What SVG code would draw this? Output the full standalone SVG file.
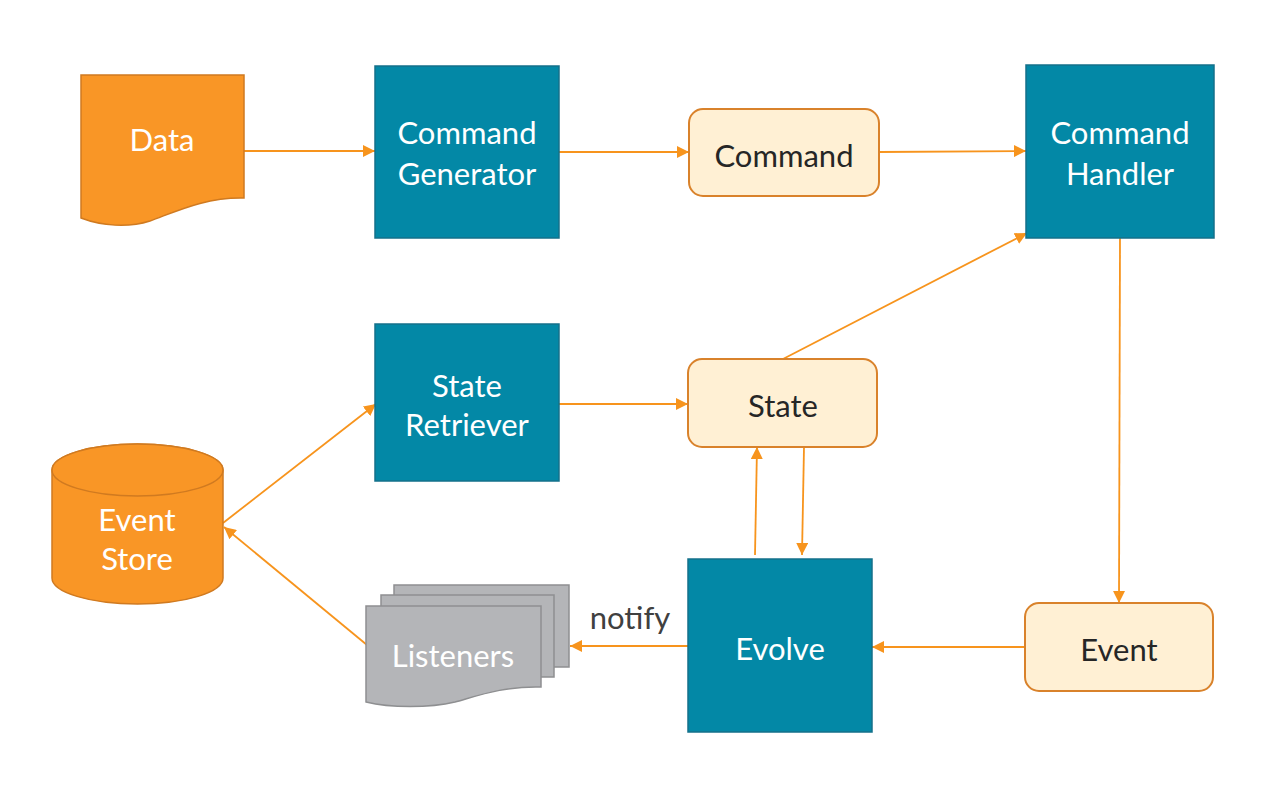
<svg xmlns="http://www.w3.org/2000/svg" width="1282" height="792" viewBox="0 0 1282 792">
<style>
.proc{fill:#0388A6;stroke:#14708A;stroke-width:1.5}
.soft{fill:#FFF0D4;stroke:#D9822B;stroke-width:2}
.orange{fill:#F99626;stroke:#D07A20;stroke-width:1.5}
.gray{fill:#B4B5B8;stroke:#8E8F91;stroke-width:1.5}
.lbl{font-family:Lato,"Open Sans","Liberation Sans",sans-serif;font-size:31px;text-anchor:middle}
.w{fill:#FFFFFF}
.d{fill:#262626}
.conn{stroke:#F7941D;stroke-width:1.8;fill:none;marker-end:url(#ah)}
</style>
<defs>
<marker id="ah" viewBox="0 0 10 10" refX="10" refY="5" markerWidth="12" markerHeight="12" markerUnits="userSpaceOnUse" orient="auto">
<path d="M0,0 L10,5 L0,10 Z" fill="#F7941D"/>
</marker>
</defs>
<rect width="1282" height="792" fill="#FFFFFF"/>
<g id="connectors">
<line class="conn" x1="244" y1="151" x2="375" y2="151"/>
<line class="conn" x1="559" y1="152" x2="689" y2="152"/>
<line class="conn" x1="879" y1="152" x2="1026" y2="151"/>
<line class="conn" x1="783" y1="359" x2="1027" y2="233"/>
<line class="conn" x1="1120" y1="238" x2="1119" y2="603"/>
<line class="conn" x1="1025" y1="647" x2="872" y2="647"/>
<line class="conn" x1="688" y1="646" x2="570" y2="646"/>
<line class="conn" x1="755" y1="555" x2="757" y2="447"/>
<line class="conn" x1="804" y1="447" x2="802" y2="555"/>
<line class="conn" x1="559" y1="404" x2="688" y2="404"/>
<line class="conn" x1="223" y1="523" x2="376" y2="404"/>
<line class="conn" x1="367" y1="645" x2="224" y2="527"/>
<text class="lbl" x="630" y="629" style="fill:#404040">notify</text>
</g>
<g id="data">
<path class="orange" d="M81,75 H244 V198 C205,197 175,212 150,221 C128,228 102,226 81,218 Z"/>
<text class="lbl w" x="162" y="151">Data</text>
</g>
<g id="command-generator">
<rect class="proc" x="375" y="66" width="184" height="172"/>
<text class="lbl w" x="467" y="144">Command</text>
<text class="lbl w" x="467" y="185">Generator</text>
</g>
<g id="command">
<rect class="soft" x="689" y="109" width="190" height="87" rx="14"/>
<text class="lbl d" x="784" y="167">Command</text>
</g>
<g id="command-handler">
<rect class="proc" x="1026" y="65" width="188" height="173"/>
<text class="lbl w" x="1120" y="144">Command</text>
<text class="lbl w" x="1120" y="185">Handler</text>
</g>
<g id="state-retriever">
<rect class="proc" x="375" y="324" width="184" height="157"/>
<text class="lbl w" x="467" y="397">State</text>
<text class="lbl w" x="467" y="436">Retriever</text>
</g>
<g id="state">
<rect class="soft" x="688" y="359" width="189" height="88" rx="14"/>
<text class="lbl d" x="783" y="417">State</text>
</g>
<g id="event-store">
<path class="orange" d="M52,470 V578 A85.5,26 0 0 0 223,578 V470 A85.5,26 0 0 0 52,470 Z"/>
<ellipse class="orange" cx="137.5" cy="470" rx="85.5" ry="26"/>
<text class="lbl w" x="137" y="531">Event</text>
<text class="lbl w" x="137" y="570">Store</text>
</g>
<g id="evolve">
<rect class="proc" x="688" y="559" width="184" height="173"/>
<text class="lbl w" x="780" y="660">Evolve</text>
</g>
<g id="event">
<rect class="soft" x="1025" y="603" width="188" height="88" rx="14"/>
<text class="lbl d" x="1119" y="661">Event</text>
</g>
<g id="listeners">
<rect class="gray" x="394" y="585" width="175" height="82"/>
<rect class="gray" x="381" y="595" width="173" height="82"/>
<path class="gray" d="M366,606 H541 V687 C505,686 480,695 455,702 C430,708 390,708 366,702 Z"/>
<text class="lbl w" x="453" y="667">Listeners</text>
</g>
</svg>
